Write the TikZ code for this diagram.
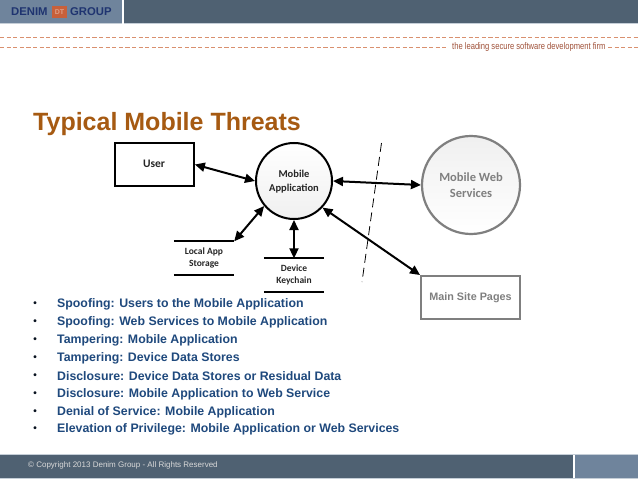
\documentclass[tikz,border=0pt]{standalone}
\usepackage{fontspec}
\setmainfont{Liberation Sans}
\newfontfamily\carl{Carlito}
\usetikzlibrary{arrows.meta}
\definecolor{bardark}{HTML}{4F6172}
\definecolor{barlight}{HTML}{6F849C}
\definecolor{dashc}{HTML}{D9906F}
\definecolor{titlec}{HTML}{A65A12}
\definecolor{bulletc}{HTML}{1F497D}
\definecolor{navy}{HTML}{1F3470}
\definecolor{logoo}{HTML}{C8603A}
\definecolor{tagc}{HTML}{A0523A}
\definecolor{greyc}{HTML}{7F7F7F}
\tikzset{
  x=1pt,y=-1pt,
  hdash/.style={draw=dashc,line width=1pt,dash pattern=on 4.2pt off 2.4pt},
  conn/.style={line width=2pt,{Triangle[length=10pt,width=9pt]}-{Triangle[length=10pt,width=9pt]}},
  lab/.style={font=\carl\bfseries\fontsize{10.5}{14}\selectfont,align=center,text=black!85},
  store/.style={minimum width=60pt,inner sep=0pt,lab,font=\carl\bfseries\fontsize{9.5}{12}\selectfont},
  storeline/.style={line width=2pt},
  bline/.style={font=\bfseries\fontsize{12.33}{14}\selectfont,text=bulletc,anchor=west,inner sep=0pt},
  bdot/.style={font=\bfseries\fontsize{10}{12}\selectfont,text=black!75!bulletc,inner sep=0pt},
}
\begin{document}
\begin{tikzpicture}
\useasboundingbox (0,0) rectangle (638,479);
\fill[white] (0,0) rectangle (638,479);
% header
\fill[barlight] (0,0) rectangle (121.5,23);
\fill[bardark] (124,0) rectangle (638,23);
\draw[line width=1pt,color=barlight!40] (0,23.5) -- (121.5,23.5) (124,23.5) -- (638,23.5);
\node[font=\bfseries\fontsize{11.3}{12}\selectfont,text=navy,inner sep=0pt,anchor=west] (denim) at (11,12) {DENIM};
\fill[logoo] (52,6) rectangle (67,18);
\node[font=\bfseries\fontsize{7}{8}\selectfont,text=logoo!60!white,inner sep=0pt] (dt) at (59.5,12.3) {DT};
\node[font=\bfseries\fontsize{11.3}{12}\selectfont,text=navy,inner sep=0pt,anchor=west] (group) at (70,12) {GROUP};
\path[hdash] (0,37) -- (638,37);
\path[hdash] (0,47) -- (448,47);
\path[hdash] (608,47) -- (638,47);
\node[font=\fontsize{9.5}{10}\selectfont,text=tagc,inner sep=0pt,anchor=west] (tag) at (452,47) {\scalebox{.8}[1]{the leading secure software development firm}};
% title
\node[font=\bfseries\fontsize{25}{28}\selectfont,text=titlec,inner sep=0pt,anchor=base west] (title) at (33,130) {Typical Mobile Threats};
% diagram
\node[draw=black,line width=1.7pt,minimum width=79pt,minimum height=43pt,inner sep=0pt] (user) at (154.5,164.5) {};
\node[lab,font=\carl\bfseries\fontsize{11.5}{14}\selectfont,inner sep=0pt] (userl) at (154,164) {User};
\node[circle,draw=black,line width=2pt,minimum size=76pt,inner sep=0pt,top color=white,bottom color=black!6] (app) at (294,181) {};
\node[lab,inner sep=0pt] (appl) at (294,181.5) {Mobile\\Application};
\node[circle,draw=greyc,line width=2.2pt,minimum size=98pt,inner sep=0pt,top color=black!6,bottom color=white] (web) at (471,185) {};
\node[lab,font=\carl\bfseries\fontsize{12.5}{16}\selectfont,text=greyc,inner sep=0pt] (webl) at (471,185) {Mobile Web\\Services};
\node[draw=greyc,line width=1.9pt,minimum width=99pt,minimum height=43pt,inner sep=0pt] (main) at (470.5,297.5) {};
\node[font=\bfseries\fontsize{10.8}{12}\selectfont,text=greyc,inner sep=0pt] (mainl) at (470.5,298) {Main Site Pages};
\node[store,minimum height=33pt] (local) at (204,258) {Local App\\Storage};
\draw[storeline] (local.north west) -- (local.north east) (local.south west) -- (local.south east);
\node[store,minimum height=33pt] (dev) at (294,275) {Device\\Keychain};
\draw[storeline] (dev.north west) -- (dev.north east) (dev.south west) -- (dev.south east);
\coordinate (bt) at (381.5,143);
\coordinate (bb) at (362,282);
\draw[black,line width=0.8pt,dash pattern=on 9pt off 5pt] (bt) -- (bb);
\draw[conn] (user.east) -- (app.west);
\draw[conn] (local.north east) -- (app.220);
\draw[conn] (dev.north) -- (app.south);
\draw[conn] (app.east) -- (web.west);
\draw[conn] (main.north west) -- (app.-43);
% bullets
\foreach \yy/\tx in {304/{Spoofing: Users to the Mobile Application},
 322/{Spoofing: Web Services to Mobile Application},
 340/{Tampering: Mobile Application},
 358/{Tampering: Device Data Stores},
 376/{Disclosure: Device Data Stores or Residual Data},
 394/{Disclosure: Mobile Application to Web Service},
 412/{Denial of Service: Mobile Application},
 429/{Elevation of Privilege: Mobile Application or Web Services}}{
  \node[bdot] (d\yy) at (35,\yy) {•};
  \node[bline] (t\yy) at (57,\yy) {\tx};
}
% footer
\fill[bardark] (0,455) rectangle (572.5,478);
\fill[barlight] (574.5,455) rectangle (638,478);
\draw[line width=1pt,color=barlight!40] (0,454.5) -- (638,454.5) (0,478.5) -- (638,478.5);
\node[font=\fontsize{8}{10}\selectfont,text=white!85!black,inner sep=0pt,anchor=west] (copy) at (28,465) {© Copyright 2013  Denim Group - All Rights Reserved};
\end{tikzpicture}
\end{document}
